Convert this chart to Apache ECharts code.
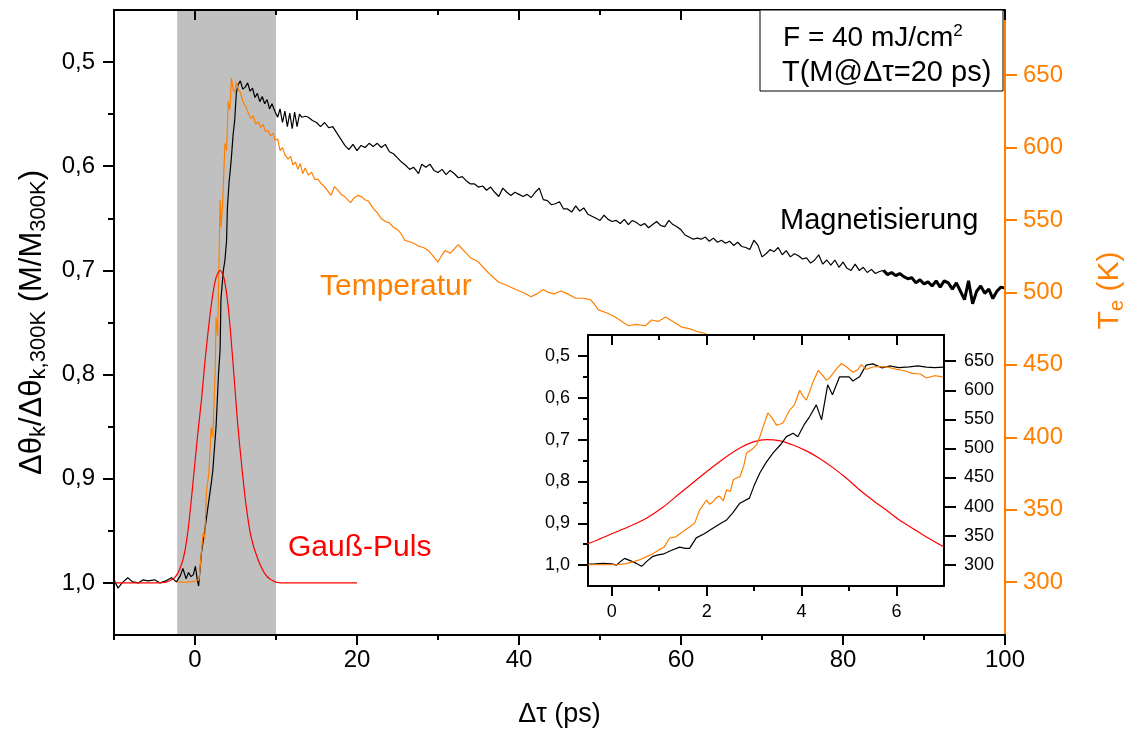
<!DOCTYPE html>
<html>
<head>
<meta charset="utf-8">
<script src="https://cdn.jsdelivr.net/npm/echarts@6/dist/echarts.min.js"></script>
<style>
html,body{margin:0;padding:0;background:#fff;}
#chart{width:1135px;height:733px;}
</style>
</head>
<body>
<div id="chart"></div>
<script>
// tick values
var mainXLabels = [0, 20, 40, 60, 80, 100];
var mainXMinor = [-10, 10, 30, 50, 70, 90];
var magLabels = [0.5, 0.6, 0.7, 0.8, 0.9, 1.0];
var magMinor = [0.55, 0.65, 0.75, 0.85, 0.95];
var tempLabels = [300, 350, 400, 450, 500, 550, 600, 650];
var insetXLabels = [0, 2, 4, 6];
var insetXMinor = [1, 3, 5];
var insetXTop = [0, 2, 4, 6];
var insetXTopMinor = [1, 3, 5, 7];

// pump window (grey band)
var bandStart = -2.2;
var bandEnd = 10;

// magnetisation M/M300K (main)
var magnetisation = [
	[-10,0.997],[-9.5,1.005],[-9,1.0],[-8.3,0.995],[-7.7,0.999],[-7,1.0],[-6.4,0.997],[-5.8,0.998],[-5,0.997],
	[-4.3,1.0],[-3.6,0.998],[-2.9,0.995],[-2.3,0.999],[-1.8,0.993],[-1.5,0.986],[-1.1,0.996],[-0.8,0.99],
	[-0.5,0.994],[-0.2,0.992],[0.05,0.984],[0.3,0.998],[0.45,1.003],
	[0.8,0.971],[1.2,0.95],[1.6,0.927],[2.0,0.905],[2.2,0.892],[2.6,0.85],[2.9,0.8],[3.1,0.776],[3.2,0.728],
	[3.5,0.70],[3.7,0.69],[3.9,0.671],[4.0,0.64],[4.2,0.616],[4.4,0.60],[4.5,0.591],[4.7,0.57],[4.9,0.556],
	[5.1,0.53],[5.3,0.522],[5.6,0.518],[5.9,0.526],[6.2,0.524],[6.5,0.52],[6.8,0.528],[7.1,0.525],[7.4,0.534],
	[7.7,0.53],[8.0,0.538],[8.3,0.533],[8.6,0.54],[8.9,0.536],[9.2,0.545],[9.5,0.54],[9.9,0.548],
	[10.2,0.553],[10.5,0.545],[10.8,0.558],[11.1,0.547],[11.4,0.562],[11.7,0.549],[12.0,0.564],[12.3,0.548],
	[12.6,0.562],[12.9,0.55],[13.2,0.553],[13.6,0.552],[14.0,0.553],[14.5,0.556],
	[15,0.558],[15.5,0.562],[16,0.558],[16.5,0.563],[17,0.562],[17.5,0.568],[18,0.574],[18.5,0.58],[19,0.584],
	[19.5,0.579],[20,0.585],[20.5,0.58],[21,0.582],[21.5,0.578],[22,0.581],[22.5,0.578],[23,0.582],[23.5,0.579],
	[24,0.586],[24.5,0.588],[25,0.592],[25.5,0.596],[26,0.599],[26.5,0.603],[27,0.601],[27.6,0.607],[28,0.598],
	[28.5,0.601],[29,0.598],[29.5,0.604],[30,0.606],[30.5,0.603],[31,0.608],[31.5,0.604],[32,0.607],[32.5,0.611],
	[33,0.61],[33.5,0.614],[34,0.617],[34.5,0.617],[35,0.62],[35.5,0.619],[36,0.623],[36.5,0.62],[37,0.625],
	[37.5,0.629],[38,0.621],[38.5,0.625],[39,0.628],[39.5,0.625],[40,0.627],[40.5,0.629],[41,0.627],[41.5,0.63],
	[42,0.625],[42.5,0.621],[43,0.632],[43.5,0.633],[44,0.637],[44.5,0.636],[45,0.634],[45.5,0.641],[46,0.641],
	[46.5,0.644],[47,0.638],[47.5,0.643],[48,0.64],[48.5,0.646],[49,0.648],[49.5,0.65],[50,0.652],[50.5,0.647],
	[51,0.651],[51.5,0.653],[52,0.652],[52.5,0.655],[53,0.651],[53.5,0.656],[54,0.652],[54.5,0.654],[55,0.657],
	[55.5,0.655],[56,0.659],[56.5,0.656],[57,0.653],[57.5,0.657],[58,0.658],[58.5,0.652],[59,0.656],[59.5,0.658],
	[60,0.661],[60.5,0.666],[61,0.668],[61.5,0.67],[62,0.669],[62.5,0.67],[63,0.668],[63.5,0.672],[64,0.669],
	[64.5,0.673],[65,0.671],[65.5,0.674],[66,0.672],[66.5,0.676],[67,0.673],[67.5,0.677],[68,0.678],[68.5,0.68],
	[69,0.671],[69.5,0.676],[70,0.687],[70.5,0.684],[71,0.68],[71.5,0.682],[72,0.678],[72.5,0.685],[73,0.681],
	[73.5,0.687],[74,0.684],[74.5,0.686],[75,0.689],[75.5,0.688],[76,0.693],[76.5,0.69],[77,0.685],[77.5,0.694],
	[78,0.69],[78.5,0.695],[79,0.69],[79.5,0.697],[80,0.692],[80.5,0.698],[81,0.7],[81.5,0.694],[82,0.7],
	[82.5,0.697],[83,0.702],[83.5,0.699],[84,0.703],[84.5,0.701],[85,0.7]
];
// last part drawn with a thicker line
var magnetisationTail = [
	[85,0.7],[85.5,0.704],[86,0.702],[86.5,0.705],[87,0.703],[87.5,0.706],[88,0.708],[88.5,0.707],[89,0.712],
	[89.5,0.709],[90,0.713],[90.5,0.711],[91,0.715],[91.5,0.71],[92,0.716],[92.5,0.71],[93,0.712],[93.5,0.718],
	[94,0.712],[94.5,0.72],[95,0.728],[95.5,0.71],[96,0.732],[96.5,0.72],[97,0.715],[97.5,0.722],[98,0.718],
	[98.5,0.727],[99,0.72],[99.5,0.716],[100,0.717]
];

// electron temperature Te (K)
var temperature = [
	[-2.2,300],[-1,300],[0,300.5],[0.5,302],[1.0,334],[1.2,330],[1.4,362],[1.7,375],[2.0,407],[2.2,400],
	[2.5,447],[2.6,483],[2.8,470],[3.1,564],[3.2,545],[3.4,560],[3.7,603],[3.9,598],[4.1,632],[4.3,626],
	[4.5,648],[4.7,640],[4.9,638],[5.1,645],[5.3,641],[5.6,638],[5.9,632],[6.2,629],[6.5,625],[6.9,620],
	[7.2,622],[7.5,616],[7.8,618],[8.1,614],[8.4,616],[8.7,611],[9.0,612],[9.3,608],[9.6,610],[9.9,605],
	[10.2,606],[10.5,598],[10.8,600],[11.1,595],[11.5,592],[11.8,594],[12.1,588],[12.4,590],[12.7,585],
	[13.0,589],[13.3,582],[13.6,586],[14,581],[14.4,583],[14.8,578],[15.2,578],[15.6,575],[16,573],[16.4,570],
	[16.8,567],[17.2,573],[17.6,571],[18,568],[18.5,566],[19.2,562],[19.6,565],[20.1,567],[20.6,566],[21,564],
	[21.4,563],[22,558],[22.5,555],[23,551],[23.5,549],[24,548],[24.5,545],[25.1,543],[25.5,540],[25.9,536],
	[26.5,535],[27,534],[27.6,532],[28.2,531],[28.8,529],[29.4,525],[30,521],[30.5,526],[30.9,529],[31.5,527],
	[32,530],[32.5,533],[33,530],[33.5,527],[34,524],[35,521],[35.8,516],[36.5,512],[37.5,507],[38.5,505],
	[39.6,502],[40.5,500],[41.5,497],[42.2,499],[43,502],[43.6,500],[44.3,499],[45.2,501],[46,499],[47,496],
	[48,496],[48.8,495],[49.3,492],[49.8,488],[50.8,486],[51.9,483],[52.7,480],[53.5,477],[54.5,478],
	[55.6,477],[56.4,481],[57.2,480],[58.1,483],[59,480],[60.1,476],[61,475],[62,473],[62.8,472],[63.5,470]
];

// pump pulse profile (same scale as M)
var gaussPulse = [
	[-10,1.0],[-5,1.0],[-3.5,0.999],[-2.4,0.994],[-1.5,0.978],[-0.9,0.952],[-0.25,0.904],[0.3,0.86],[0.8,0.824],
	[1.2,0.79],[1.6,0.76],[2.1,0.728],[2.6,0.707],[3.1,0.70],[3.6,0.708],[4.1,0.735],[4.5,0.77],[4.9,0.81],
	[5.3,0.85],[5.8,0.89],[6.3,0.925],[6.9,0.955],[7.8,0.978],[8.8,0.993],[9.9,0.999],[11,1.0],[20,1.0]
];

// inset (zoom on the first 7 ps)
var insetMag = [
	[-0.53,0.998],[-0.35,0.997],[-0.18,0.996],[0,0.997],[0.1,1.0],[0.2,0.99],[0.27,0.984],[0.4,0.99],[0.52,0.996],
	[0.63,1.003],[0.75,0.99],[0.87,0.979],[1.0,0.975],[1.08,0.974],[1.25,0.965],[1.43,0.957],[1.55,0.96],
	[1.64,0.96],[1.78,0.935],[1.95,0.925],[2.13,0.912],[2.3,0.9],[2.42,0.892],[2.55,0.875],[2.7,0.852],[2.9,0.84],
	[3.0,0.81],[3.12,0.78],[3.25,0.755],[3.4,0.732],[3.55,0.713],[3.68,0.693],[3.82,0.685],[3.92,0.693],
	[4.05,0.665],[4.17,0.645],[4.31,0.617],[4.42,0.653],[4.55,0.569],[4.65,0.593],[4.8,0.55],[5.0,0.55],
	[5.08,0.56],[5.22,0.55],[5.36,0.522],[5.5,0.519],[5.7,0.529],[5.85,0.524],[6.05,0.528],[6.27,0.526],
	[6.45,0.524],[6.63,0.527],[6.8,0.528],[7.0,0.527]
];
var insetTemp = [
	[-0.5,300],[-0.2,300],[0.1,300],[0.3,302],[0.45,305],[0.6,309],[0.73,314],[0.85,318],[1.0,326],[1.1,330],
	[1.22,346],[1.35,348],[1.43,353],[1.55,360],[1.64,365],[1.75,372],[1.85,394],[1.92,402],[2.0,411],[2.06,404],
	[2.13,408],[2.2,415],[2.27,418],[2.35,410],[2.42,429],[2.5,426],[2.56,446],[2.65,450],[2.7,451],[2.78,470],
	[2.84,492],[2.95,498],[3.05,506],[3.12,520],[3.19,537],[3.29,561],[3.38,552],[3.47,540],[3.55,542],
	[3.61,544],[3.75,566],[3.85,575],[3.96,600],[4.03,590],[4.1,583],[4.17,598],[4.24,614],[4.35,634],
	[4.45,625],[4.52,617],[4.6,622],[4.66,629],[4.75,638],[4.84,646],[4.95,640],[5.08,631],[5.18,635],
	[5.26,644],[5.36,636],[5.5,640],[5.64,641],[5.8,640],[6.0,636],[6.15,634],[6.34,629],[6.5,628],[6.63,621],
	[6.8,625],[6.97,623]
];
var insetGauss = [
	[-0.58,0.952],[-0.3,0.94],[0.03,0.924],[0.4,0.906],[0.73,0.888],[1.1,0.86],[1.43,0.829],[1.8,0.795],
	[2.13,0.765],[2.4,0.742],[2.7,0.72],[3.0,0.705],[3.26,0.70],[3.55,0.703],[3.82,0.713],[4.1,0.727],
	[4.38,0.745],[4.66,0.767],[4.94,0.792],[5.2,0.818],[5.5,0.845],[5.8,0.87],[6.06,0.892],[6.35,0.913],
	[6.63,0.933],[7.0,0.957]
];

var black = '#000';
var orange = '#ff8000';
var red = '#ff0000';
var font = 'Liberation Sans, Arial, sans-serif';

function comma(v) {
	return v.toFixed(1).replace('.', ',');
}

// an axis that only carries tick marks (for the short minor ticks)
function tickOnly(base, values, len, inside) {
	var a = Object.assign({}, base);
	a.axisLine = {show: false, onZero: false};
	a.axisTick = {show: true, inside: !!inside, customValues: values, length: len, lineStyle: {color: black, width: 2}};
	a.axisLabel = {show: false};
	a.splitLine = {show: false};
	a.name = '';
	return a;
}

var mainX = {gridIndex: 0, type: 'value', min: -10, max: 100, z: 3};
var insetX = {gridIndex: 1, type: 'value', min: -0.5, max: 7, z: 6};
var mainM = {gridIndex: 0, type: 'value', min: 0.45, max: 1.05, inverse: true, position: 'left', z: 3};
var insetM = {gridIndex: 1, type: 'value', min: 0.45, max: 1.05, inverse: true, position: 'left', z: 6};

var chart = echarts.init(document.getElementById('chart'));
var option = {
	animation: false,
	backgroundColor: '#fff',
	textStyle: {fontFamily: font},
	grid: [
		{left: 114, top: 10, right: 129, bottom: 97},
		{left: 588, top: 335, width: 356, height: 251, show: true, backgroundColor: '#fff', borderWidth: 0, z: 5}
	],
	xAxis: [
		Object.assign({}, mainX, {
			position: 'bottom',
			axisLine: {onZero: false, lineStyle: {color: black, width: 2}},
			axisTick: {customValues: mainXLabels, length: 10, lineStyle: {color: black, width: 2}},
			axisLabel: {customValues: mainXLabels, fontSize: 24, color: black, margin: 13},
			splitLine: {show: false},
			name: 'Δτ (ps)',
			nameLocation: 'middle',
			nameGap: 66,
			nameTextStyle: {fontSize: 27, color: black}
		}),
		tickOnly(Object.assign({}, mainX, {position: 'bottom'}), mainXMinor, 5, false),
		Object.assign({}, mainX, {
			position: 'top',
			axisLine: {onZero: false, lineStyle: {color: black, width: 2}},
			axisTick: {inside: true, customValues: mainXLabels, length: 10, lineStyle: {color: black, width: 2}},
			axisLabel: {show: false},
			splitLine: {show: false}
		}),
		tickOnly(Object.assign({}, mainX, {position: 'top'}), mainXMinor.slice(1), 5, true),
		Object.assign({}, insetX, {
			position: 'bottom',
			axisLine: {onZero: false, lineStyle: {color: black, width: 2}},
			axisTick: {customValues: insetXLabels, length: 10, lineStyle: {color: black, width: 2}},
			axisLabel: {customValues: insetXLabels, fontSize: 18, color: black, margin: 17},
			splitLine: {show: false}
		}),
		tickOnly(Object.assign({}, insetX, {position: 'bottom'}), insetXMinor, 5, false),
		Object.assign({}, insetX, {
			position: 'top',
			axisLine: {onZero: false, lineStyle: {color: black, width: 2}},
			axisTick: {inside: true, customValues: insetXTop, length: 10, lineStyle: {color: black, width: 2}},
			axisLabel: {show: false},
			splitLine: {show: false}
		}),
		tickOnly(Object.assign({}, insetX, {position: 'top'}), insetXTopMinor, 5, true)
	],
	yAxis: [
		Object.assign({}, mainM, {
			axisLine: {onZero: false, lineStyle: {color: black, width: 2}},
			axisTick: {customValues: magLabels, length: 11, lineStyle: {color: black, width: 2}},
			axisLabel: {customValues: magLabels, formatter: comma, fontSize: 24, color: black, margin: 19},
			splitLine: {show: false},
			name: '{n|Δθ}{s|k}{n|/Δθ}{s|k,300K}{n| (M/M}{s|300K}{n|)}',
			nameLocation: 'middle',
			nameRotate: 90,
			nameGap: 64,
			nameTextStyle: {
				color: black,
				fontSize: 31,
				rich: {
					n: {fontSize: 31, color: black, fontFamily: font},
					s: {fontSize: 22, color: black, fontFamily: font, padding: [14, 0, 0, 0]}
				}
			}
		}),
		tickOnly(mainM, magMinor, 6, false),
		{
			gridIndex: 0, type: 'value', position: 'right', min: 263.5, max: 695, z: 3,
			axisLine: {show: true, onZero: false, lineStyle: {color: orange, width: 2}},
			axisTick: {customValues: tempLabels, length: 12, lineStyle: {color: orange, width: 2}},
			axisLabel: {customValues: tempLabels, fontSize: 24, color: orange, margin: 18},
			splitLine: {show: false},
			name: '{n|T}{s|e}{n| (K)}',
			nameLocation: 'middle',
			nameRotate: 90,
			nameGap: 88,
			nameTextStyle: {
				color: orange,
				fontSize: 30,
				padding: [0, 0, 0, 64],
				rich: {
					n: {fontSize: 30, color: orange, fontFamily: font},
					s: {fontSize: 20, color: orange, fontFamily: font, padding: [14, 0, 0, 0]}
				}
			}
		},
		Object.assign({}, insetM, {
			axisLine: {onZero: false, lineStyle: {color: black, width: 2}},
			axisTick: {customValues: magLabels, length: 10, lineStyle: {color: black, width: 2}},
			axisLabel: {customValues: magLabels, formatter: comma, fontSize: 18, color: black, margin: 18},
			splitLine: {show: false}
		}),
		tickOnly(insetM, magMinor, 5, false),
		{
			gridIndex: 1, type: 'value', position: 'right', min: 263.5, max: 695, z: 6,
			axisLine: {show: true, onZero: false, lineStyle: {color: black, width: 2}},
			axisTick: {customValues: tempLabels, length: 12, lineStyle: {color: black, width: 2}},
			axisLabel: {customValues: tempLabels, fontSize: 18, color: black, margin: 20},
			splitLine: {show: false}
		}
	],
	series: [
		{
			type: 'line', xAxisIndex: 0, yAxisIndex: 0, data: magnetisation, symbol: 'none', z: 2,
			lineStyle: {color: black, width: 1.2}, itemStyle: {color: black},
			markArea: {
				silent: true,
				itemStyle: {color: '#c0c0c0', opacity: 1},
				data: [[{xAxis: bandStart}, {xAxis: bandEnd}]]
			}
		},
		{
			type: 'line', xAxisIndex: 0, yAxisIndex: 0, data: magnetisationTail, symbol: 'none', z: 2,
			lineStyle: {color: black, width: 3}, itemStyle: {color: black}
		},
		{
			type: 'line', xAxisIndex: 0, yAxisIndex: 2, data: temperature, symbol: 'none', z: 2,
			lineStyle: {color: orange, width: 1.2}, itemStyle: {color: orange}
		},
		{
			type: 'line', xAxisIndex: 0, yAxisIndex: 0, data: gaussPulse, symbol: 'none', z: 2, smooth: 0.3,
			lineStyle: {color: red, width: 1.2}, itemStyle: {color: red}
		},
		{
			type: 'line', xAxisIndex: 4, yAxisIndex: 3, data: insetGauss, symbol: 'none', z: 7, smooth: 0.3,
			lineStyle: {color: red, width: 1.2}, itemStyle: {color: red}
		},
		{
			type: 'line', xAxisIndex: 4, yAxisIndex: 3, data: insetMag, symbol: 'none', z: 7,
			lineStyle: {color: black, width: 1.2}, itemStyle: {color: black}
		},
		{
			type: 'line', xAxisIndex: 4, yAxisIndex: 5, data: insetTemp, symbol: 'none', z: 7,
			lineStyle: {color: orange, width: 1.2}, itemStyle: {color: orange}
		}
	],
	graphic: [
		{
			type: 'rect', z: 20,
			shape: {x: 760, y: 10, width: 243, height: 81},
			style: {fill: '#fff', stroke: black, lineWidth: 1}
		},
		{
			type: 'text', z: 21, x: 783, y: 38,
			style: {
				text: '{a|F = 40 mJ/cm}{b|2}', verticalAlign: 'middle',
				rich: {
					a: {fontSize: 28, fontFamily: font, fill: black},
					b: {fontSize: 17, fontFamily: font, fill: black, padding: [0, 0, 14, 0]}
				}
			}
		},
		{
			type: 'text', z: 21, x: 782, y: 73,
			style: {text: 'T(M@Δτ=20 ps)', fontSize: 29, fontFamily: font, fill: black, verticalAlign: 'middle'}
		},
		{
			type: 'text', z: 21, x: 780, y: 221,
			style: {text: 'Magnetisierung', fontSize: 29, fontFamily: font, fill: black, verticalAlign: 'middle'}
		},
		{
			type: 'text', z: 21, x: 320, y: 287,
			style: {text: 'Temperatur', fontSize: 30, fontFamily: font, fill: orange, verticalAlign: 'middle'}
		},
		{
			type: 'text', z: 21, x: 288, y: 548,
			style: {text: 'Gauß-Puls', fontSize: 30, fontFamily: font, fill: red, verticalAlign: 'middle'}
		}
	]
};
chart.setOption(option);
</script>
</body>
</html>
